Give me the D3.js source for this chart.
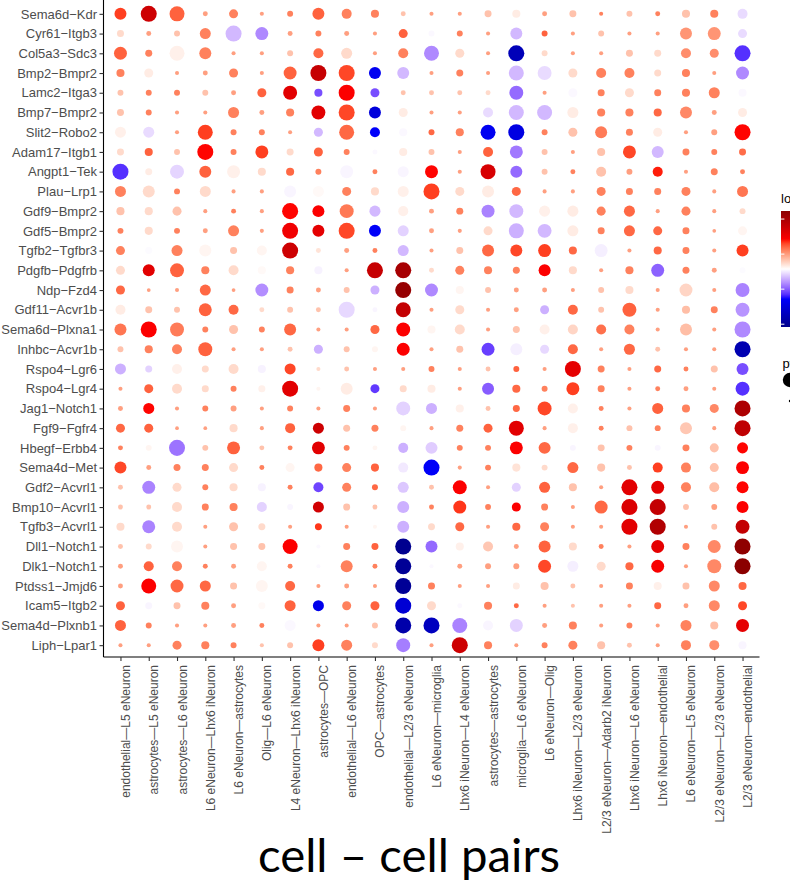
<!DOCTYPE html>
<html>
<head>
<meta charset="utf-8">
<script src="https://cdn.jsdelivr.net/npm/d3@7"></script>
<style>
  html, body { margin: 0; padding: 0; background: #fff; }
  svg { display: block; }
  .axis text { font-family: "Liberation Sans", Arial, sans-serif; fill: #4d4d4d; }
</style>
</head>
<body>
<svg id="chart" width="790" height="882"></svg>
<script>
// Ligand–receptor pairs (rows, top to bottom)
const pairs = [
  "Sema6d-Kdr", "Cyr61-Itgb3", "Col5a3-Sdc3", "Bmp2-Bmpr2", "Lamc2-Itga3", "Bmp7-Bmpr2",
  "Slit2-Robo2", "Adam17-Itgb1", "Angpt1-Tek", "Plau-Lrp1", "Gdf9-Bmpr2", "Gdf5-Bmpr2",
  "Tgfb2-Tgfbr3", "Pdgfb-Pdgfrb", "Ndp-Fzd4", "Gdf11-Acvr1b", "Sema6d-Plxna1", "Inhbc-Acvr1b",
  "Rspo4-Lgr6", "Rspo4-Lgr4", "Jag1-Notch1", "Fgf9-Fgfr4", "Hbegf-Erbb4", "Sema4d-Met",
  "Gdf2-Acvrl1", "Bmp10-Acvrl1", "Tgfb3-Acvrl1", "Dll1-Notch1", "Dlk1-Notch1", "Ptdss1-Jmjd6",
  "Icam5-Itgb2", "Sema4d-Plxnb1", "Liph-Lpar1"
];

// Sender—receiver cell pairs (columns, left to right)
const cellPairs = [
  "endothelial—L5 eNeuron", "astrocytes—L5 eNeuron", "astrocytes—L6 eNeuron",
  "L6 eNeuron—Lhx6 iNeuron", "L6 eNeuron—astrocytes", "Olig—L6 eNeuron",
  "L4 eNeuron—Lhx6 iNeuron", "astrocytes—OPC", "endothelial—L6 eNeuron",
  "OPC—astrocytes", "endothelial—L2/3 eNeuron", "L6 eNeuron—microglia",
  "Lhx6 iNeuron—L4 eNeuron", "astrocytes—astrocytes", "microglia—L6 eNeuron",
  "L6 eNeuron—Olig", "Lhx6 iNeuron—L2/3 eNeuron", "L2/3 eNeuron—Adarb2 iNeuron",
  "Lhx6 iNeuron—L6 eNeuron", "Lhx6 iNeuron—endothelial", "L6 eNeuron—L5 eNeuron",
  "L2/3 eNeuron—L2/3 eNeuron", "L2/3 eNeuron—endothelial"
];

// log2 mean expression of each pair, one row per ligand–receptor pair
const logMean = [
  [0.32, 0.75, 0.22, -0.01, 0.11, -0.01, 0.11, 0.22, 0.11, 0.11, -0.16, -0.01, -0.01, -0.16, -0.34, -0.01, -0.16, 0.11, -0.16, 0.11, -0.16, 0.11, -0.55],
  [-0.26, -0.01, -0.16, 0.11, -0.67, -0.84, -0.01, 0.11, -0.01, -0.01, 0.22, -0.45, 0.11, -0.01, -0.67, 0.22, -0.01, -0.16, -0.01, -0.01, 0.03, 0.03, -0.55],
  [0.22, 0.11, -0.36, 0.11, -0.01, -0.01, -0.16, 0.2, -0.26, -0.01, 0.11, -0.84, -0.26, -0.01, -1.75, -0.26, -0.01, -0.01, -0.16, -0.26, 0.06, 0.06, -1.15],
  [0.11, -0.34, -0.01, -0.01, 0.11, -0.01, 0.22, 0.8, 0.3, -1.35, -0.67, -0.01, 0.11, -0.01, -0.67, -0.55, -0.26, 0.11, 0.11, -0.26, 0.11, -0.01, -0.84],
  [-0.16, 0.11, 0.11, -0.16, -0.01, 0.22, 0.6, -1.05, 0.42, -1.05, -0.16, -0.16, -0.16, -0.26, -0.95, -0.01, -0.45, 0.11, -0.26, 0.11, 0.11, 0.11, -0.45],
  [-0.16, 0.11, -0.01, -0.01, 0.11, -0.01, 0.11, 0.6, 0.3, -1.5, -0.34, -0.01, -0.01, -0.55, -0.67, -0.67, -0.34, 0.11, 0.11, 0.2, 0.08, -0.01, -0.34],
  [-0.36, -0.55, -0.01, 0.32, 0.11, 0.11, -0.01, -0.67, 0.2, -1.28, -0.45, 0.2, 0.11, -1.35, -1.45, 0.11, -0.16, 0.13, 0.11, -0.34, -0.01, -0.01, 0.4],
  [-0.26, 0.22, -0.16, 0.4, 0.11, 0.32, -0.26, 0.22, 0.11, -0.45, -0.34, -0.16, -0.01, 0.22, -0.9, -0.16, -0.01, -0.16, 0.3, -0.67, 0.11, 0.11, 0.18],
  [-1.15, -0.34, -0.57, 0.22, -0.36, -0.26, 0.2, 0.11, -0.46, 0.11, -0.46, 0.4, -0.01, 0.68, -0.95, -0.16, 0.11, -0.16, -0.01, 0.38, -0.01, 0.11, 0.11],
  [0.11, -0.26, 0.11, -0.26, -0.01, -0.01, -0.46, -0.4, 0.11, -0.26, -0.36, 0.32, -0.26, -0.34, 0.2, -0.01, -0.01, 0.11, 0.11, 0.11, 0.11, -0.01, 0.15],
  [-0.16, -0.26, -0.16, -0.01, 0.11, -0.01, 0.4, 0.42, 0.14, -0.67, -0.36, -0.01, 0.11, -0.86, -0.67, -0.36, -0.34, 0.11, 0.2, -0.01, 0.11, -0.01, -0.26],
  [0.11, -0.26, 0.11, -0.01, 0.11, -0.01, 0.5, 0.58, 0.3, -1.3, -0.58, -0.01, -0.01, -0.26, -0.7, -0.67, -0.34, 0.11, 0.2, 0.2, 0.11, -0.01, -0.38],
  [0.11, -0.44, 0.11, -0.38, -0.16, -0.38, 0.75, -0.3, -0.01, 0.11, -0.67, -0.01, -0.16, 0.2, 0.3, 0.32, 0.2, -0.48, -0.01, 0.2, 0.11, -0.01, 0.32],
  [-0.26, 0.6, 0.22, 0.11, -0.26, -0.4, 0.11, -0.47, -0.01, 0.8, 1.02, -0.26, 0.11, 0.11, 0.11, 0.42, -0.26, -0.01, 0.11, -0.98, 0.11, -0.01, -0.44],
  [0.2, -0.01, -0.01, 0.2, -0.01, -0.82, 0.11, -0.01, -0.16, -0.7, 1.15, -0.84, -0.38, -0.16, -0.01, -0.01, -0.01, -0.16, -0.26, -0.01, -0.24, -0.01, -0.86],
  [-0.34, -0.16, -0.16, 0.22, 0.2, -0.26, -0.16, -0.16, -0.56, -0.46, 0.82, -0.01, -0.26, -0.01, -0.01, -0.7, 0.2, -0.16, 0.22, -0.01, -0.14, 0.11, -0.8],
  [0.15, 0.42, 0.13, 0.11, -0.16, 0.11, 0.2, -0.01, -0.01, 0.2, 0.42, -0.38, -0.26, -0.01, -0.16, -0.36, -0.24, 0.17, 0.11, -0.01, -0.14, -0.01, -0.84],
  [-0.16, 0.11, 0.11, 0.22, -0.01, -0.01, -0.16, -0.7, -0.16, -0.38, 0.42, -0.01, -0.16, -1.1, -0.48, -0.56, 0.2, -0.01, 0.2, -0.16, -0.01, -0.01, -1.8],
  [-0.7, -0.58, -0.36, -0.26, -0.26, -0.47, 0.3, -0.26, -0.16, -0.01, -0.01, 0.11, -0.01, -0.16, 0.22, -0.01, 0.58, 0.11, -0.01, 0.2, 0.11, -0.16, -1.05],
  [-0.01, 0.22, -0.26, -0.26, 0.11, -0.36, 0.6, -0.38, -0.34, -1.12, -0.26, -0.34, -0.01, -1.0, 0.2, 0.11, 0.32, 0.11, -0.01, 0.11, -0.01, -0.01, -1.15],
  [-0.01, 0.4, -0.01, 0.11, -0.01, -0.01, 0.11, -0.01, 0.11, -0.01, -0.58, -0.7, -0.36, -0.16, 0.2, 0.3, -0.36, 0.11, -0.01, 0.22, 0.11, 0.08, 0.98],
  [0.2, 0.22, -0.01, -0.01, -0.26, -0.01, 0.22, 0.75, -0.16, 0.11, -0.38, -0.01, 0.11, 0.22, 0.6, -0.01, -0.36, 0.11, -0.16, 0.11, -0.18, -0.01, 0.85],
  [0.11, -0.38, -0.92, -0.16, 0.22, -0.16, 0.11, 0.6, 0.11, -0.38, -0.7, -0.6, 0.11, 0.11, 0.42, 0.2, -0.46, -0.16, 0.11, -0.46, 0.11, -0.16, 0.4],
  [0.3, -0.01, 0.11, 0.11, -0.26, 0.11, -0.38, 0.2, 0.11, 0.22, -0.5, -1.3, -0.01, 0.11, -0.3, -0.26, 0.2, -0.16, -0.16, 0.32, 0.11, -0.16, 0.42],
  [-0.16, -0.86, -0.26, 0.11, -0.26, -0.47, 0.11, -1.08, 0.11, 0.2, -0.62, -0.16, 0.42, -0.01, -0.58, 0.22, -0.16, -0.01, 0.6, 0.6, 0.11, -0.14, 0.4],
  [-0.16, -0.16, -0.26, 0.11, 0.11, -0.58, -0.46, 0.72, -0.16, -0.16, -0.7, 0.11, 0.34, 0.11, 0.42, 0.11, -0.01, 0.2, 0.65, 0.82, -0.16, -0.01, 0.42],
  [-0.26, -0.86, -0.26, -0.01, -0.16, -0.26, -0.01, 0.34, -0.01, -0.38, -0.7, -0.26, 0.2, -0.01, 0.2, 0.11, -0.01, -0.01, 0.6, 0.95, -0.01, -0.16, 0.82],
  [-0.16, -0.26, -0.38, -0.01, -0.16, -0.16, 0.42, -0.45, 0.11, 0.22, -2.05, -0.95, -0.36, -0.18, -0.01, 0.22, -0.26, 0.11, -0.01, 0.58, 0.11, 0.08, 1.2],
  [-0.01, 0.22, 0.11, 0.11, -0.01, -0.38, 0.11, -0.45, 0.11, 0.11, -2.0, -0.45, -0.01, -0.01, -0.01, 0.3, -0.48, -0.26, 0.2, 0.45, -0.01, 0.08, 1.25],
  [-0.01, 0.42, 0.2, 0.2, -0.16, -0.38, 0.2, -0.01, -0.01, -0.01, -2.0, 0.11, -0.01, -0.01, -0.34, -0.16, -0.16, -0.01, 0.11, -0.36, -0.16, 0.08, 0.2],
  [0.22, -0.46, -0.16, 0.11, -0.01, -0.4, 0.22, -1.38, 0.11, 0.22, -1.55, -0.26, -0.45, 0.11, 0.2, -0.01, -0.16, -0.01, -0.01, 0.2, -0.01, 0.08, 0.3],
  [0.22, 0.11, -0.01, -0.01, -0.01, 0.11, -0.45, -0.01, -0.01, -0.16, -1.85, -1.7, -0.86, -0.46, -0.58, -0.01, 0.11, -0.01, 0.11, -0.01, 0.11, -0.14, 0.58],
  [-0.01, -0.01, 0.11, 0.11, 0.11, -0.16, -0.16, 0.32, 0.11, -0.26, -0.88, -0.01, 0.75, 0.11, -0.01, 0.11, 0.11, -0.16, -0.16, -0.01, 0.11, 0.06, -0.46]
];

// permutation p-value of each pair (smaller p = larger dot)
const pValue = [
  [0.49, 0.07, 0.19, 0.93, 0.72, 0.96, 0.89, 0.49, 0.65, 0.78, 0.93, 0.96, 0.96, 0.84, 0.78, 0.93, 0.84, 0.96, 0.89, 0.93, 0.78, 0.78, 0.65],
  [0.84, 0.93, 0.89, 0.57, 0.07, 0.40, 0.93, 0.89, 0.93, 0.96, 0.72, 0.89, 0.89, 0.96, 0.49, 0.89, 0.96, 0.89, 0.96, 0.96, 0.49, 0.40, 0.72],
  [0.40, 0.84, 0.19, 0.49, 0.96, 0.96, 0.89, 0.65, 0.57, 0.96, 0.65, 0.19, 0.72, 0.96, 0.07, 0.89, 0.96, 0.96, 0.84, 0.84, 0.65, 0.72, 0.07],
  [0.78, 0.72, 0.96, 0.93, 0.72, 0.96, 0.40, 0.07, 0.07, 0.49, 0.49, 0.96, 0.84, 0.96, 0.19, 0.30, 0.72, 0.65, 0.65, 0.84, 0.78, 0.96, 0.40],
  [0.89, 0.89, 0.89, 0.89, 0.93, 0.72, 0.30, 0.78, 0.07, 0.72, 0.93, 0.93, 0.93, 0.93, 0.30, 0.96, 0.72, 0.84, 0.72, 0.84, 0.78, 0.57, 0.78],
  [0.84, 0.89, 0.96, 0.96, 0.57, 0.93, 0.78, 0.30, 0.07, 0.49, 0.72, 0.96, 0.96, 0.65, 0.19, 0.19, 0.57, 0.78, 0.78, 0.78, 0.49, 0.93, 0.72],
  [0.57, 0.57, 0.96, 0.19, 0.89, 0.89, 0.96, 0.72, 0.19, 0.65, 0.78, 0.89, 0.78, 0.19, 0.07, 0.89, 0.72, 0.49, 0.84, 0.72, 0.96, 0.89, 0.07],
  [0.84, 0.78, 0.89, 0.07, 0.89, 0.40, 0.84, 0.72, 0.89, 0.93, 0.78, 0.89, 0.96, 0.65, 0.40, 0.89, 0.96, 0.78, 0.40, 0.49, 0.84, 0.89, 0.84],
  [0.07, 0.84, 0.30, 0.49, 0.40, 0.78, 0.78, 0.89, 0.40, 0.93, 0.57, 0.40, 0.96, 0.19, 0.49, 0.89, 0.93, 0.65, 0.89, 0.65, 0.96, 0.84, 0.93],
  [0.57, 0.49, 0.89, 0.57, 0.96, 0.96, 0.49, 0.57, 0.72, 0.78, 0.57, 0.07, 0.72, 0.49, 0.72, 0.96, 0.96, 0.72, 0.84, 0.84, 0.72, 0.96, 0.57],
  [0.78, 0.78, 0.72, 0.96, 0.93, 0.96, 0.07, 0.49, 0.30, 0.57, 0.65, 0.93, 0.84, 0.40, 0.30, 0.57, 0.57, 0.72, 0.57, 0.96, 0.72, 0.96, 0.89],
  [0.89, 0.78, 0.89, 0.93, 0.57, 0.96, 0.07, 0.49, 0.07, 0.49, 0.57, 0.93, 0.96, 0.72, 0.19, 0.30, 0.57, 0.84, 0.57, 0.72, 0.84, 0.97, 0.72],
  [0.72, 0.84, 0.57, 0.49, 0.84, 0.65, 0.07, 0.93, 0.93, 0.93, 0.57, 0.96, 0.84, 0.49, 0.49, 0.40, 0.78, 0.40, 0.96, 0.78, 0.84, 0.96, 0.49],
  [0.72, 0.49, 0.30, 0.78, 0.65, 0.78, 0.78, 0.78, 0.96, 0.07, 0.07, 0.93, 0.72, 0.78, 0.84, 0.49, 0.78, 0.96, 0.78, 0.40, 0.84, 0.93, 0.89],
  [0.72, 0.97, 0.96, 0.57, 0.97, 0.40, 0.84, 0.93, 0.89, 0.72, 0.07, 0.40, 0.78, 0.89, 0.93, 0.93, 0.96, 0.89, 0.78, 0.96, 0.40, 0.96, 0.30],
  [0.65, 0.84, 0.89, 0.40, 0.65, 0.93, 0.89, 0.93, 0.07, 0.93, 0.19, 0.96, 0.72, 0.96, 0.93, 0.72, 0.65, 0.89, 0.30, 0.96, 0.78, 0.84, 0.30],
  [0.49, 0.07, 0.30, 0.89, 0.72, 0.89, 0.49, 0.96, 0.96, 0.72, 0.30, 0.78, 0.65, 0.96, 0.84, 0.65, 0.65, 0.65, 0.65, 0.96, 0.49, 0.96, 0.07],
  [0.89, 0.78, 0.65, 0.30, 0.96, 0.96, 0.93, 0.72, 0.89, 0.89, 0.40, 0.96, 0.84, 0.40, 0.49, 0.72, 0.65, 0.96, 0.57, 0.93, 0.96, 0.96, 0.07],
  [0.57, 0.84, 0.65, 0.84, 0.65, 0.78, 0.57, 0.96, 0.93, 0.96, 0.96, 0.89, 0.96, 0.93, 0.89, 0.96, 0.07, 0.84, 0.96, 0.84, 0.93, 0.84, 0.49],
  [0.96, 0.72, 0.65, 0.84, 0.89, 0.84, 0.07, 0.96, 0.49, 0.72, 0.84, 0.78, 0.96, 0.49, 0.78, 0.89, 0.40, 0.84, 0.96, 0.93, 0.93, 0.96, 0.30],
  [0.93, 0.57, 0.96, 0.89, 0.89, 0.96, 0.89, 0.96, 0.84, 0.96, 0.30, 0.57, 0.78, 0.93, 0.84, 0.30, 0.65, 0.93, 0.96, 0.57, 0.78, 0.72, 0.07],
  [0.72, 0.72, 0.97, 0.97, 0.78, 0.96, 0.65, 0.57, 0.84, 0.84, 0.89, 0.96, 0.84, 0.72, 0.19, 0.96, 0.65, 0.93, 0.89, 0.89, 0.49, 0.96, 0.07],
  [0.93, 0.89, 0.07, 0.89, 0.40, 0.93, 0.93, 0.40, 0.89, 0.93, 0.65, 0.49, 0.89, 0.89, 0.40, 0.49, 0.89, 0.84, 0.89, 0.89, 0.84, 0.72, 0.57],
  [0.49, 0.93, 0.84, 0.84, 0.72, 0.93, 0.72, 0.78, 0.72, 0.78, 0.65, 0.07, 0.96, 0.89, 0.78, 0.89, 0.57, 0.78, 0.93, 0.65, 0.65, 0.72, 0.40],
  [0.93, 0.40, 0.72, 0.89, 0.78, 0.78, 0.93, 0.65, 0.72, 0.89, 0.57, 0.93, 0.30, 0.96, 0.72, 0.57, 0.78, 0.96, 0.07, 0.40, 0.65, 0.65, 0.49],
  [0.93, 0.93, 0.65, 0.84, 0.78, 0.65, 0.89, 0.57, 0.84, 0.93, 0.49, 0.93, 0.40, 0.89, 0.72, 0.84, 0.96, 0.40, 0.07, 0.07, 0.89, 0.89, 0.49],
  [0.78, 0.40, 0.65, 0.96, 0.72, 0.84, 0.96, 0.84, 0.96, 0.96, 0.49, 0.84, 0.72, 0.96, 0.78, 0.72, 0.96, 0.96, 0.07, 0.07, 0.96, 0.89, 0.30],
  [0.93, 0.89, 0.49, 0.96, 0.84, 0.84, 0.19, 0.96, 0.84, 0.84, 0.07, 0.49, 0.78, 0.65, 0.93, 0.49, 0.78, 0.93, 0.96, 0.40, 0.84, 0.40, 0.07],
  [0.93, 0.65, 0.65, 0.93, 0.93, 0.65, 0.93, 0.96, 0.49, 0.93, 0.07, 0.96, 0.93, 0.89, 0.89, 0.40, 0.57, 0.72, 0.78, 0.40, 0.96, 0.30, 0.07],
  [0.93, 0.19, 0.40, 0.57, 0.84, 0.49, 0.65, 0.96, 0.93, 0.96, 0.07, 0.84, 0.96, 0.96, 0.84, 0.78, 0.93, 0.96, 0.84, 0.78, 0.84, 0.57, 0.78],
  [0.72, 0.84, 0.84, 0.78, 0.93, 0.84, 0.57, 0.57, 0.72, 0.72, 0.07, 0.72, 0.93, 0.78, 0.93, 0.96, 0.96, 0.96, 0.96, 0.84, 0.93, 0.57, 0.72],
  [0.57, 0.89, 0.96, 0.96, 0.93, 0.93, 0.57, 0.96, 0.96, 0.89, 0.07, 0.07, 0.19, 0.65, 0.40, 0.93, 0.78, 0.96, 0.89, 0.96, 0.57, 0.78, 0.40],
  [0.96, 0.96, 0.72, 0.78, 0.89, 0.96, 0.89, 0.49, 0.57, 0.89, 0.30, 0.96, 0.07, 0.78, 0.96, 0.89, 0.72, 0.78, 0.93, 0.96, 0.65, 0.65, 0.78]
];

// legend settings
const colorTicks = [-2, -1, 0, 1];
const sizeKeys = [0.25, 1];
const colorDomain = [-2.08, 1.23];

const svg = d3.select("#chart");
svg.append("rect").attr("width", 790).attr("height", 882).attr("fill", "#fff");

const panel = { left: 103.5, right: 759.5, top: 2, bottom: 657 };

const x = d3.scalePoint().domain(cellPairs).range([panel.left, panel.right]).padding(0.6);
const y = d3.scalePoint().domain(pairs).range([panel.top, panel.bottom]).padding(0.6);

const [cMin, cMax] = colorDomain;
const color = d3.scaleLinear()
  .domain(d3.range(5).map(i => cMin + (cMax - cMin) * i / 4))
  .range(["darkblue", "blue", "white", "red", "darkred"])
  .interpolate(d3.interpolateLab)
  .clamp(true);

const radius = d3.scaleRadial().domain([0, 1]).range([8.3, 1.2]);

const records = pairs.flatMap((pair, i) =>
  cellPairs.map((cells, j) => ({ pair, cells, mean: logMean[i][j], p: pValue[i][j] })));

// dots
svg.append("g")
  .selectAll("circle")
  .data(records)
  .join("circle")
  .attr("cx", d => x(d.cells))
  .attr("cy", d => y(d.pair))
  .attr("r", d => radius(d.p))
  .attr("fill", d => color(d.mean));

// left axis
const yAxis = svg.append("g")
  .attr("class", "axis")
  .attr("transform", `translate(${panel.left},0)`)
  .call(d3.axisLeft(y).tickSize(4).tickPadding(2.5).tickFormat(d => d.replace("-", "\u2212")));
yAxis.select(".domain").attr("d", `M0,${panel.top - 2}V${panel.bottom}`).attr("stroke", "#000").attr("stroke-width", 1.1);
yAxis.selectAll(".tick line").attr("stroke", "#333").attr("stroke-width", 1.1);
yAxis.selectAll(".tick text").attr("font-size", 13).attr("fill", "#4d4d4d");

// bottom axis
const xAxis = svg.append("g")
  .attr("class", "axis")
  .attr("transform", `translate(0,${panel.bottom})`)
  .call(d3.axisBottom(x).tickSize(4));
xAxis.select(".domain").attr("d", `M${panel.left},0H${panel.right}`).attr("stroke", "#000").attr("stroke-width", 1.1);
xAxis.selectAll(".tick line").attr("stroke", "#333").attr("stroke-width", 1.1);
xAxis.selectAll(".tick text")
  .attr("font-size", 12)
  .attr("fill", "#4d4d4d")
  .attr("text-anchor", "end")
  .attr("dy", null)
  .attr("y", 0)
  .attr("transform", "translate(9,8) rotate(-90)");

// axis title
const title = svg.append("text")
  .attr("x", 409)
  .attr("y", 872)
  .attr("text-anchor", "middle")
  .attr("font-family", "Lato, 'Open Sans', sans-serif")
  .attr("font-size", 48)
  .attr("fill", "#000")
  .text("cell \u2013 cell pairs");
const tl = title.node().getComputedTextLength();
if (tl > 0) title.attr("font-size", 48 * 302 / tl);

// colour legend (sits at the right edge of the canvas)
const legend = svg.append("g").attr("font-family", "Liberation Sans, Arial, sans-serif");
legend.append("text").attr("x", 781).attr("y", 203).attr("font-size", 13).text("log2 mean");

const bar = { x: 781, y: 211, w: 17, h: 116 };
const grad = svg.append("defs").append("linearGradient")
  .attr("id", "meanGrad").attr("x1", 0).attr("y1", 1).attr("x2", 0).attr("y2", 0);
grad.selectAll("stop")
  .data(d3.range(0, 1.0001, 0.02))
  .join("stop")
  .attr("offset", t => t)
  .attr("stop-color", t => color(cMin + t * (cMax - cMin)));
legend.append("rect")
  .attr("x", bar.x).attr("y", bar.y).attr("width", bar.w).attr("height", bar.h)
  .attr("fill", "url(#meanGrad)");
const barY = d3.scaleLinear().domain(colorDomain).range([bar.y + bar.h, bar.y]);
colorTicks.forEach(v => {
  legend.append("line")
    .attr("x1", bar.x).attr("x2", bar.x + 3.4)
    .attr("y1", barY(v)).attr("y2", barY(v))
    .attr("stroke", "#fff").attr("stroke-width", 1);
  legend.append("line")
    .attr("x1", bar.x + bar.w - 3.4).attr("x2", bar.x + bar.w)
    .attr("y1", barY(v)).attr("y2", barY(v))
    .attr("stroke", "#fff").attr("stroke-width", 1);
});

// size legend
legend.append("text").attr("x", 782.5).attr("y", 368).attr("font-size", 13).text("pvalue");
const keyY = [380, 401];
sizeKeys.forEach((p, i) => {
  legend.append("circle").attr("cx", 790).attr("cy", keyY[i]).attr("r", radius(p)).attr("fill", "#000");
});
</script>
</body>
</html>
